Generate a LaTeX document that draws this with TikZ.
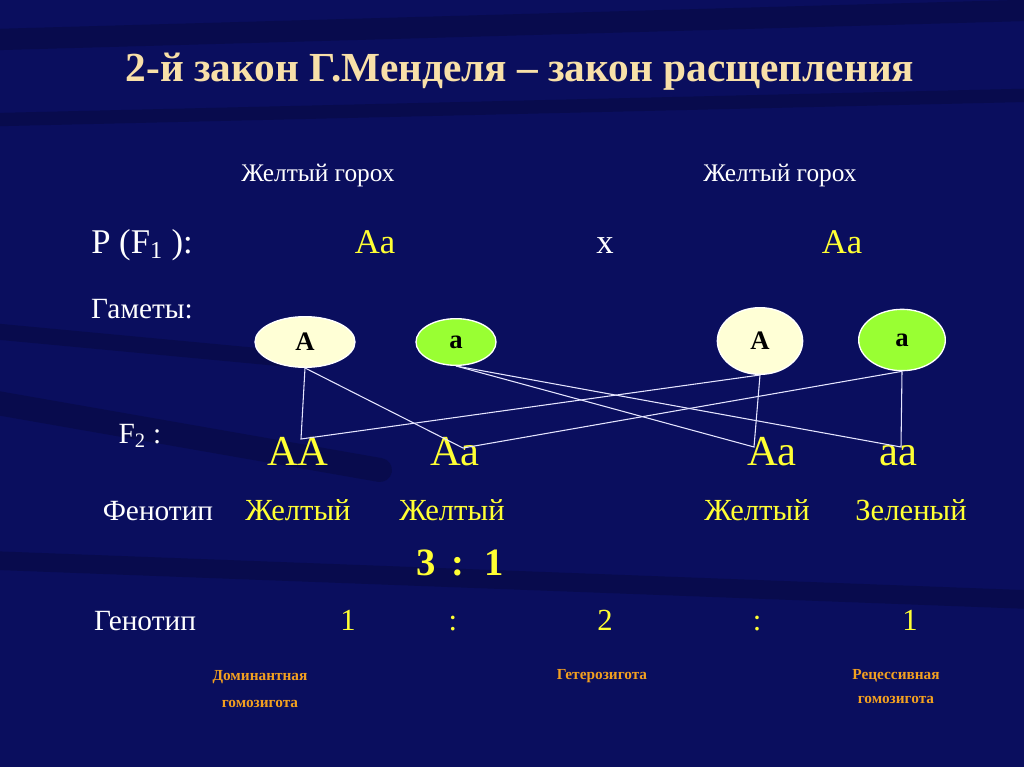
\documentclass[tikz,border=0pt]{standalone}
\usepackage{fontspec}
\setmainfont{Liberation Serif}
\usetikzlibrary{shapes.geometric}
\begin{document}
\begin{tikzpicture}[x=0.75pt,y=-0.75pt,
  wt/.style={text=white,inner sep=0pt,text height=0.68em,text depth=0.2em},
  yl/.style={text=yel,inner sep=0pt,text height=0.68em,text depth=0.2em},
  org/.style={text=orng,inner sep=0pt,font=\fontsize{11.5}{14}\selectfont\bfseries,align=center},
  gam/.style={ellipse,draw=white,line width=1pt,inner sep=0pt,font=\fontsize{20}{20}\selectfont\bfseries,text=black},
  ln/.style={draw=white!90!blue,line width=0.8pt}]
\definecolor{bg}{HTML}{0A0E5E}
\definecolor{yel}{HTML}{FFFF33}
\definecolor{orng}{HTML}{F2A020}
\definecolor{ttl}{HTML}{F8E0A8}
\definecolor{pale}{HTML}{FFFFD6}
\definecolor{grn}{HTML}{99FF33}
\useasboundingbox (0,0) rectangle (1024,767);
\fill[bg] (0,0) rectangle (1024,767);
% dark streaks
\begin{scope}[black,opacity=0.18,line cap=round]
\draw[line width=16pt] (-20,40) -- (1040,10);
\draw[line width=10pt] (-20,120) -- (1040,95);
\draw[line width=18pt] (-20,400) -- (380,470);
\draw[line width=12pt] (-20,330) -- (300,360);
\draw[line width=14pt] (-20,560) -- (1040,600);
\end{scope}
\node[text=ttl,font=\fontsize{31}{34}\selectfont\bfseries] (title) at (520,72) {2-й закон Г.Менделя – закон расщепления};
\node[wt,font=\fontsize{19}{22}\selectfont] (p1) at (318,178) {Желтый горох};
\node[wt,font=\fontsize{19}{22}\selectfont] (p2) at (780,178) {Желтый горох};
\node[wt,font=\fontsize{26}{28}\selectfont] (pf) at (142,250) {P (F\textsubscript{1} ):};
\node[yl,font=\fontsize{26}{28}\selectfont] (aa1) at (375,250) {Aa};
\node[wt,font=\fontsize{26}{28}\selectfont] (x) at (605,250) {x};
\node[yl,font=\fontsize{26}{28}\selectfont] (aa2) at (842,250) {Aa};
\node[wt,font=\fontsize{22}{24}\selectfont] (gm) at (142,315) {Гаметы:};
\node[gam,fill=pale,minimum width=75pt,minimum height=38pt] (gA1) at (305,342) {A};
\node[gam,fill=grn,minimum width=60pt,minimum height=35pt] (ga1) at (456,342) {a};
\node[gam,fill=pale,minimum width=64pt,minimum height=50pt] (gA2) at (760,341) {A};
\node[gam,fill=grn,minimum width=65pt,minimum height=46pt] (ga2) at (902,340) {a};
\node[wt,font=\fontsize{22}{24}\selectfont] (f2) at (140,440) {F\textsubscript{2} :};
\node[yl,font=\fontsize{32}{34}\selectfont] (AA) at (298,462) {AA};
\node[yl,font=\fontsize{32}{34}\selectfont] (Aa1) at (455,462) {Aa};
\node[yl,font=\fontsize{32}{34}\selectfont] (Aa2) at (772,462) {Aa};
\node[yl,font=\fontsize{32}{34}\selectfont] (aa) at (898,462) {aa};
\coordinate (cAA) at (301,439);
\coordinate (cAa1) at (463,448);
\coordinate (cAa2) at (754,447);
\coordinate (caa) at (901,447);
\draw[ln] (gA1.south) -- (cAA) -- (gA2.south);
\draw[ln] (gA1.south) -- (cAa1) -- (ga2.south);
\draw[ln] (ga1.south) -- (cAa2) -- (gA2.south);
\draw[ln] (ga1.south) -- (caa) -- (ga2.south);
\node[wt,font=\fontsize{22}{24}\selectfont] (fen) at (158,517) {Фенотип};
\node[yl,font=\fontsize{23}{24}\selectfont] (j1) at (298,517) {Желтый};
\node[yl,font=\fontsize{23}{24}\selectfont] (j2) at (452,517) {Желтый};
\node[yl,font=\fontsize{23}{24}\selectfont] (j3) at (757,517) {Желтый};
\node[yl,font=\fontsize{23}{24}\selectfont] (z) at (911,517) {Зеленый};
\node[yl,font=\fontsize{29}{30}\selectfont\bfseries] (r31) at (460,572) {3 \,:\, 1};
\node[wt,font=\fontsize{22}{24}\selectfont] (gen) at (145,627) {Генотип};
\node[yl,font=\fontsize{23}{24}\selectfont] (g1) at (348,627) {1};
\node[yl,font=\fontsize{23}{24}\selectfont] (g2) at (453,627) {:};
\node[yl,font=\fontsize{23}{24}\selectfont] (g3) at (605,627) {2};
\node[yl,font=\fontsize{23}{24}\selectfont] (g4) at (757,627) {:};
\node[yl,font=\fontsize{23}{24}\selectfont] (g5) at (910,627) {1};
\node[org] (d) at (260,689) {Доминантная\\[6pt]гомозигота};
\node[org] (h) at (602,676) {Гетерозигота};
\node[org] (r) at (896,687) {Рецессивная\\[4pt]гомозигота};
\end{tikzpicture}
\end{document}
